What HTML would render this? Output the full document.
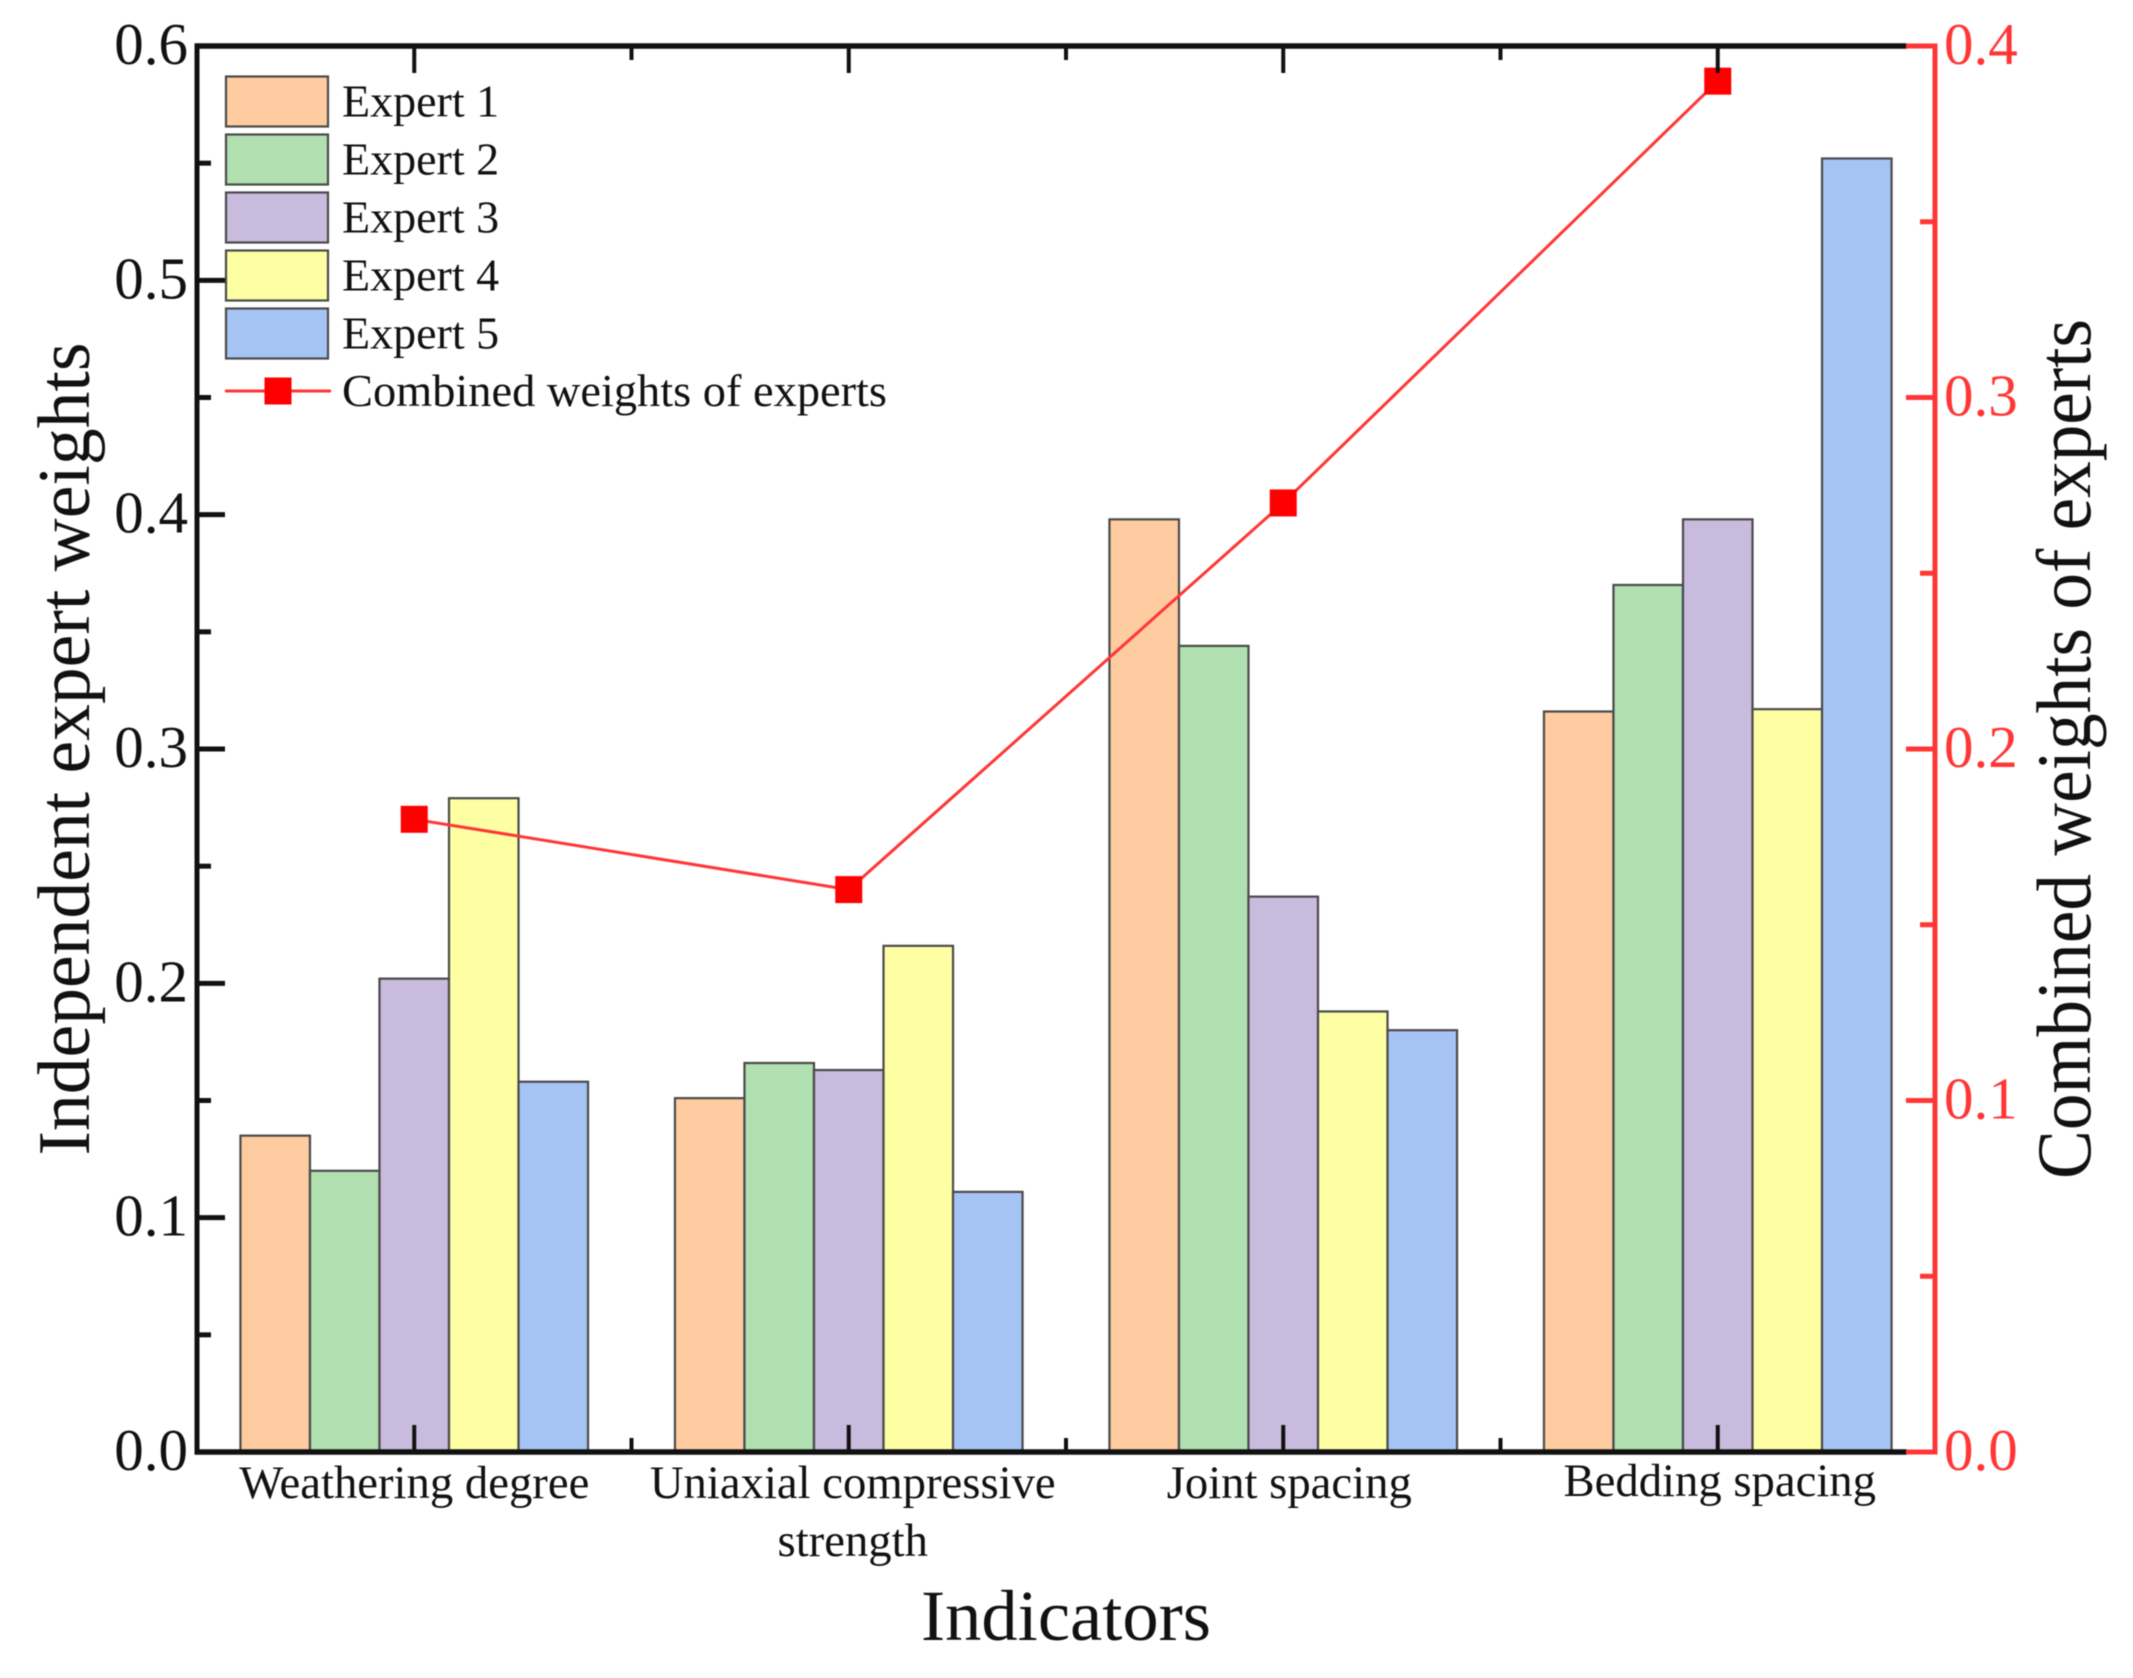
<!DOCTYPE html>
<html lang="en">
<head>
<meta charset="utf-8">
<title>Independent and combined expert weights</title>
<style>
html,body{margin:0;padding:0;background:#fff;}
svg{display:block;filter:blur(0.6px);}
text{font-family:"Liberation Serif",serif;fill:#111;}
</style>
</head>
<body>
<svg id="chart" xmlns="http://www.w3.org/2000/svg" width="2133" height="1678" viewBox="0 0 2133 1678"></svg>
<script>
const categories = [["Weathering degree"], ["Uniaxial compressive", "strength"], ["Joint spacing"], ["Bedding spacing"]];
const seriesNames = ["Expert 1", "Expert 2", "Expert 3", "Expert 4", "Expert 5"];
const expert1 = [0.135, 0.151, 0.398, 0.316];
const expert2 = [0.120, 0.166, 0.344, 0.370];
const expert3 = [0.202, 0.163, 0.237, 0.398];
const expert4 = [0.279, 0.216, 0.188, 0.317];
const expert5 = [0.158, 0.111, 0.180, 0.552];
const combined = [0.180, 0.160, 0.270, 0.390];
const leftTicks = [0, 0.1, 0.2, 0.3, 0.4, 0.5, 0.6];
const leftMinorTicks = [0.05, 0.15, 0.25, 0.35, 0.45, 0.55];
const rightTicks = [0, 0.1, 0.2, 0.3, 0.4];
const rightMinorTicks = [0.05, 0.15, 0.25, 0.35];
const barColors = ["#fecca0", "#b0dfb0", "#c9bbdd", "#fefea3", "#a6c4f3"];
const seriesValues = [expert1, expert2, expert3, expert4, expert5];

const plot = {left: 197, right: 1935, top: 46, bottom: 1452};
const RED = "#ff3636";
const svg = document.getElementById("chart");
const NS = "http://www.w3.org/2000/svg";

function yLeft(v) { return plot.bottom - v / 0.6 * (plot.bottom - plot.top); }
function yRight(v) { return plot.bottom - v / 0.4 * (plot.bottom - plot.top); }
function bandWidth() { return (plot.right - plot.left) / categories.length; }
function xCenter(i) { return plot.left + bandWidth() * (i + 0.5); }
function xBar(i, s) { return xCenter(i) - bandWidth() * 0.4 + s * bandWidth() * 0.8 / seriesValues.length; }

function make(tag, attrs, text) {
  const el = document.createElementNS(NS, tag);
  for (const k in attrs) el.setAttribute(k, attrs[k]);
  if (text !== undefined) el.textContent = text;
  svg.appendChild(el);
  return el;
}
function line(x1, y1, x2, y2, color, w) {
  return make("line", {x1: x1, y1: y1, x2: x2, y2: y2, stroke: color, "stroke-width": w});
}

/* bars */
seriesValues.forEach(function (vals, s) {
  vals.forEach(function (v, i) {
    const r = make("rect", {x: xBar(i, s), y: yLeft(v), width: bandWidth() * 0.8 / seriesValues.length, height: plot.bottom - yLeft(v), fill: barColors[s], stroke: "#4a4a4a", "stroke-width": 2.2});
    
    
  });
});

/* combined line */
const combinedLine = make("polyline", {points: combined.map(function (v, i) { return xCenter(i) + "," + yRight(v); }).join(" "), fill: "none", stroke: RED, "stroke-width": 3});


combined.forEach(function (v, i) {
  const m = make("rect", {x: xCenter(i) - 13.5, y: yRight(v) - 13.5, width: 27, height: 27, fill: "#ff0000"});
  
  
});

/* x ticks bottom & top */
categories.forEach(function (c, i) {
  const tickB = line(xCenter(i), plot.bottom, xCenter(i), plot.bottom - 27, "#111", 4);
  
  
  const tickT = line(xCenter(i), plot.top, xCenter(i), plot.top + 27, "#111", 4);
  
  
  if (i < categories.length - 1) {
    const mx = xCenter(i) + bandWidth() / 2;
    const minB = line(mx, plot.bottom, mx, plot.bottom - 14, "#111", 4);
    
    
    const minT = line(mx, plot.top, mx, plot.top + 14, "#111", 4);
    
    
  }
});

/* category labels */
const labelNudge = [0, 4, 6, 2];
const labelBase = [1498, 1498, 1498, 1496];
categories.forEach(function (lines, i) {
  lines.forEach(function (t, j) {
    const lab = make("text", {x: xCenter(i) + labelNudge[i], y: labelBase[i] + j * 58, "font-size": 46.7, "text-anchor": "middle"}, t);
    
    
  });
});

/* left axis ticks */
leftTicks.forEach(function (v) {
  const t = line(plot.left, yLeft(v), plot.left + 28, yLeft(v), "#111", 5);
  
  
  const lab = make("text", {x: 188, y: yLeft(v) + 18, "font-size": 59, "text-anchor": "end"}, v.toFixed(1));
  
  
});
leftMinorTicks.forEach(function (v) {
  const t = line(plot.left, yLeft(v), plot.left + 14, yLeft(v), "#111", 5);
  
  
});

/* axis frame */
const axisB = line(plot.left - 2.5, plot.bottom, plot.right - 28, plot.bottom, "#111", 5.5);


const axisT = line(plot.left - 2.5, plot.top, plot.right - 28, plot.top, "#111", 5.5);


const axisL = line(plot.left, plot.top, plot.left, plot.bottom, "#111", 5);



/* right axis */
const axisR = line(plot.right, plot.top - 2.5, plot.right, plot.bottom + 2.5, RED, 5);


rightTicks.forEach(function (v) {
  const t = line(plot.right, yRight(v), plot.right - 29, yRight(v), RED, 5);
  
  
  const lab = make("text", {x: 1944, y: yRight(v) + 18, "font-size": 59, style: "fill:" + RED}, v.toFixed(1));
  
  
});
rightMinorTicks.forEach(function (v) {
  const t = line(plot.right, yRight(v), plot.right - 15, yRight(v), RED, 5);
  
  
});

/* legend */
seriesNames.forEach(function (n, s) {
  const sw = make("rect", {x: 226, y: 76.5 + s * 58, width: 102, height: 50, fill: barColors[s], stroke: "#4a4a4a", "stroke-width": 2.2});
  
  
  const lab = make("text", {x: 342, y: 116.5 + s * 58, "font-size": 46}, n);
  
  
});
const legLine = line(225, 391, 331, 391, RED, 3);


const legMark = make("rect", {x: 264.5, y: 377.5, width: 27, height: 27, fill: "#ff0000"});


const legText = make("text", {x: 342, y: 406, "font-size": 46, textLength: 545, lengthAdjust: "spacingAndGlyphs"}, "Combined weights of experts");



/* axis titles */
const titleX = make("text", {x: 1066, y: 1640, "font-size": 72.5, "text-anchor": "middle", textLength: 290, lengthAdjust: "spacingAndGlyphs"}, "Indicators");


const titleL = make("text", {x: 0, y: 0, "font-size": 74, "text-anchor": "middle", textLength: 813, lengthAdjust: "spacingAndGlyphs", transform: "translate(89,749) rotate(-90)"}, "Independent expert weights");


const titleR = make("text", {x: 0, y: 0, "font-size": 77, "text-anchor": "middle", textLength: 860, lengthAdjust: "spacingAndGlyphs", transform: "translate(2090,749) rotate(-90)"}, "Combined weights of experts");


</script>
</body>
</html>
